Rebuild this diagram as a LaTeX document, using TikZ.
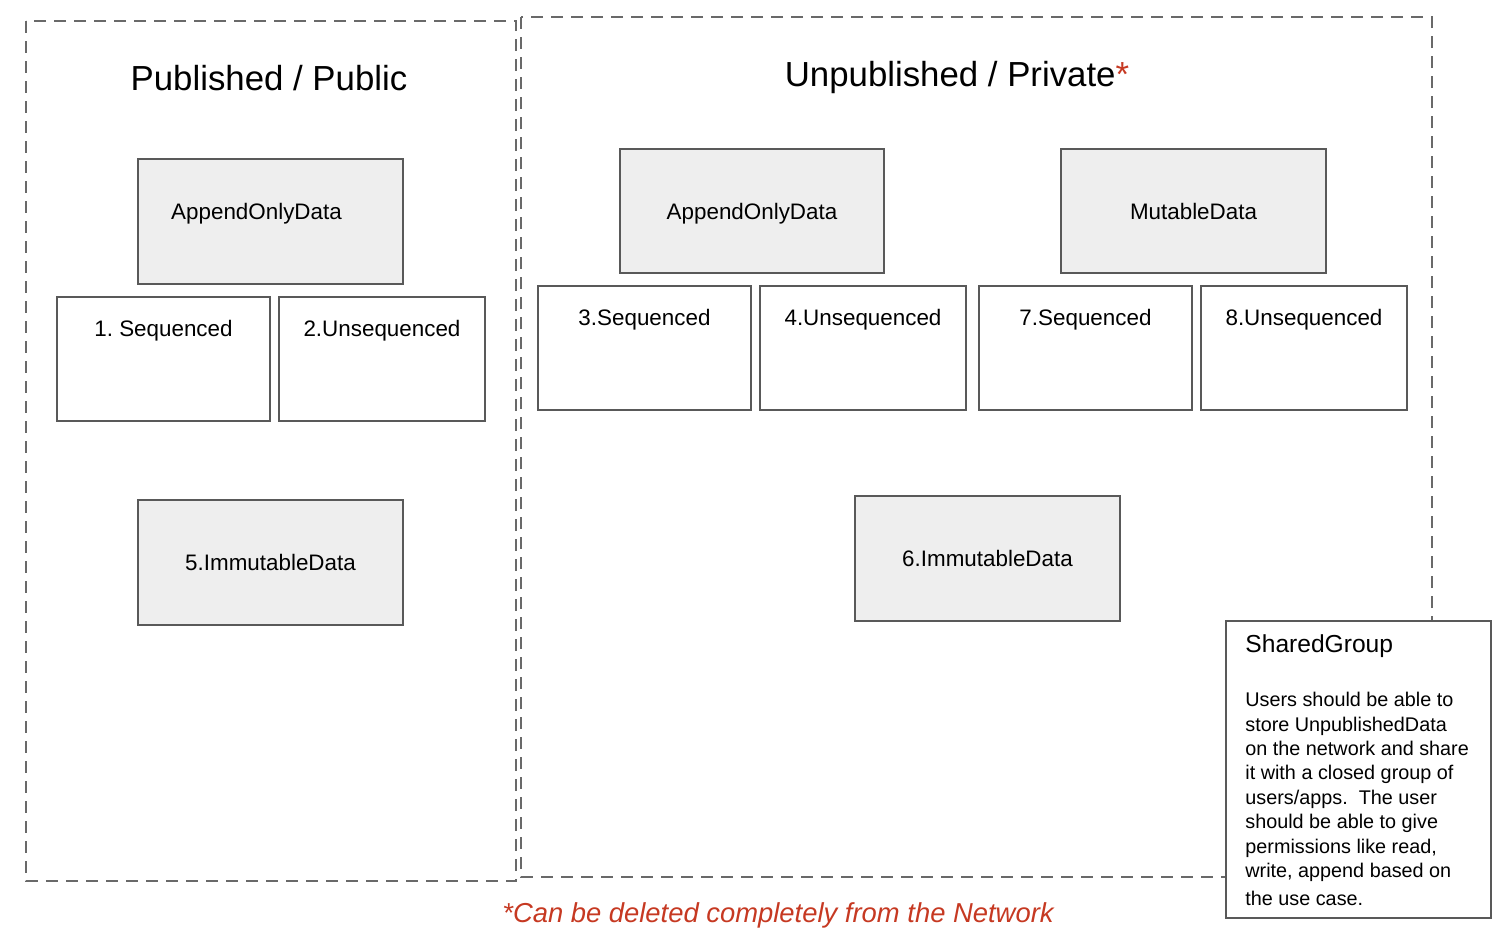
\documentclass[tikz,border=0pt]{standalone}
\usepackage{fontspec}
\setmainfont{Liberation Sans}
\usetikzlibrary{fit,calc}
\definecolor{boxgray}{RGB}{238,238,238}
\definecolor{edgegray}{RGB}{89,89,89}
\definecolor{dashgray}{RGB}{105,105,105}
\definecolor{notered}{RGB}{198,57,34}
\frenchspacing
\begin{document}
\begin{tikzpicture}[x=0.5pt, y=-0.5pt, line join=miter,
    frame/.style={draw=dashgray, line width=0.9pt, dash pattern=on 6pt off 4pt},
    graybox/.style={draw=edgegray, fill=boxgray, line width=0.9pt, inner sep=0pt},
    whitebox/.style={draw=edgegray, fill=white, line width=0.9pt, inner sep=0pt},
    lbl/.style={anchor=base, inner sep=0pt, font=\fontsize{11.2}{13}\selectfont},
    title/.style={anchor=base, inner sep=0pt, font=\fontsize{17.4}{20}\selectfont}]
    \useasboundingbox (0,0) rectangle (1510,937);
    % the two areas
    \draw[frame](26,21) rectangle (516,881);
    \draw[frame](521,17) rectangle (1432,877);
    \node[title] (pubTitle) at (269,90) {Published / Public};
    \node[title] (privTitle) at (957,86) {Unpublished / Private\textcolor{notered}{*}};
    % data types
    \foreach \nm/\xa/\ya/\xb/\yb/\dx/\dy/\txt in {pubAOD/138/159/403/284/-14/61/AppendOnlyData, pubImm/138/500/403/625/0/71/5.ImmutableData, privAOD/620/149/884/273/0/71/AppendOnlyData, privMut/1061/149/1326/273/0/71/MutableData, privImm/855/496/1120/621/0/71/6.ImmutableData}
    {\node[graybox, fit={(\xa,\ya)(\xb,\yb)}] (\nm) {};
     \node[lbl] (\nm Lbl) at ($(\nm.north)+(\dx,\dy)$) {\txt};}
    \foreach \nm/\xa/\ya/\xb/\yb/\txt in {seqA/57/297/270/421/1. Sequenced, unseqA/279/297/485/421/2.Unsequenced, seqB/538/286/751/410/3.Sequenced, unseqB/760/286/966/410/4.Unsequenced, seqC/979/286/1192/410/7.Sequenced, unseqC/1201/286/1407/410/8.Unsequenced}
    {\node[whitebox, fit={(\xa,\ya)(\xb,\yb)}] (\nm) {};
     \node[lbl] (\nm Lbl) at ($(\nm.north)+(0,40)$) {\txt};}
    % shared group note
    \node[whitebox, fit={(1226,621)(1491,918)}] (shared) {};
    \node[anchor=base west, inner sep=0pt, font=\fontsize{12.3}{14}\selectfont] (sharedTitle) at (1245,652) {SharedGroup};
    \node[anchor=north west, align=left, inner sep=0pt, font=\fontsize{9.9}{12.2}\selectfont] (sharedText) at (1245,692)
        {Users should be able to\\store UnpublishedData\\on the network and share\\it with a closed group of\\users/apps.\ \ The user\\should be able to give\\permissions like read,\\write, append based on\\[1.8pt]the use case.};
    \node[anchor=base, inner sep=0pt, text=notered, font=\fontsize{13.7}{16}\selectfont\itshape] (footNote) at (778,922) {*Can be deleted completely from the Network};
\end{tikzpicture}
\end{document}
